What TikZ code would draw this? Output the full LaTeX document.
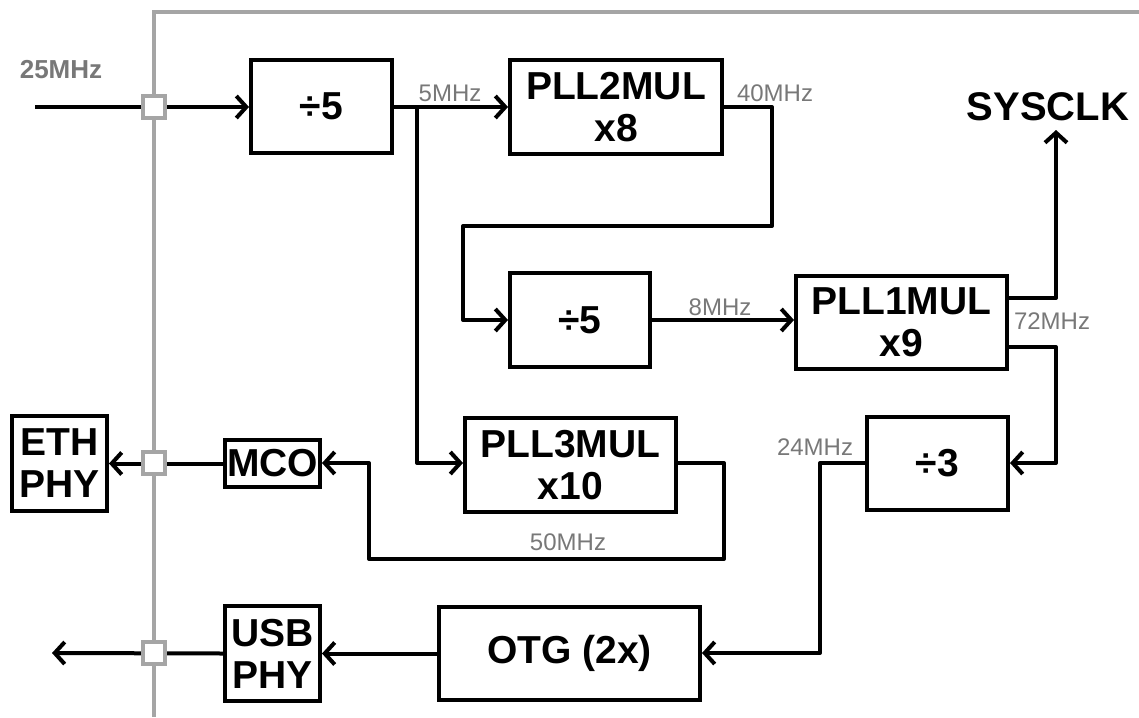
\documentclass[tikz,border=0pt]{standalone}
\usepackage{fontspec}
\setmainfont{Liberation Sans}
\usetikzlibrary{arrows.meta}
\definecolor{frame}{RGB}{165,165,165}
\definecolor{lbl}{RGB}{120,120,120}
\tikzset{
  blk/.style={draw=black, line width=4pt, fill=white, inner sep=0pt, align=center,
    font=\fontsize{39}{42}\selectfont\bfseries},
  wire/.style={draw=black, line width=4pt, line join=round},
  arr/.style={wire, -{Straight Barb[length=10pt,width=22pt,line width=4pt]}},
  pin/.style={draw=frame, line width=3.5pt, fill=white, minimum size=22pt, inner sep=0pt},
  freq/.style={text=lbl, font=\fontsize{24}{25}\selectfont, inner sep=0pt},
  bigl/.style={font=\fontsize{40}{42}\selectfont\bfseries, inner sep=0pt}
}
\begin{document}
\begin{tikzpicture}[x=1pt,y=-1pt]
\useasboundingbox (0,0) rectangle (1139,717);
% frame
\draw[frame, line width=3.5pt] (154,717) -- (154,12) -- (1139,12);
% blocks
\node[blk, minimum width=141pt, minimum height=93pt] (d5a) at (321.5,106.5) {÷5};
\node[blk, minimum width=212pt, minimum height=94pt] (pll2) at (616,107) {PLL2MUL\\x8};
\node[blk, minimum width=140pt, minimum height=94pt] (d5b) at (580,320) {÷5};
\node[blk, minimum width=211pt, minimum height=93pt] (pll1) at (901.5,322.5) {PLL1MUL\\x9};
\node[blk, minimum width=141pt, minimum height=93pt] (d3) at (937.5,463.5) {÷3};
\node[blk, minimum width=211pt, minimum height=94pt] (pll3) at (570.5,465) {PLL3MUL\\x10};
\node[blk, minimum width=95pt, minimum height=47pt] (mco) at (272.5,463.5) {MCO};
\node[blk, minimum width=95pt, minimum height=95pt] (eth) at (59.5,463.5) {ETH\\PHY};
\node[blk, minimum width=95pt, minimum height=95pt] (usb) at (272.5,653.5) {USB\\PHY};
\node[blk, minimum width=261pt, minimum height=93pt] (otg) at (569.5,653.5) {OTG (2x)};
\node[bigl] (sys) at (1048,107) {SYSCLK};
% coordinates
\coordinate (in) at (35,107);
\coordinate (out) at (52,653);
\coordinate (br) at (417,107);
% connectors
\draw[arr] (in) -- (d5a.west |- in);
\draw[arr] (d5a.east |- br) -- (pll2.west |- br);
\draw[arr] (br) -- (417,463) -- (pll3.west |- 0,463);
\draw[arr] (pll2.east |- 0,107) -- (772,107) -- (772,226) -- (463,226) -- (463,320) -- (d5b.west);
\draw[arr] (d5b.east) -- (pll1.west |- d5b.east);
\draw[arr] (pll1.east |- 0,298) -- (1056,298) -- (1056,130);
\draw[arr] (pll1.east |- 0,347) -- (1056,347) -- (1056,463) -- (d3.east |- 0,463);
\draw[arr] (d3.west |- 0,463) -- (820,463) -- (820,653) -- (otg.east |- 0,653);
\draw[arr] (otg.west) -- (usb.east);
\draw[arr] (usb.west) -- (out);
\draw[arr] (pll3.east |- 0,463) -- (724,463) -- (724,559) -- (369,559) -- (369,463) -- (mco.east |- 0,463);
\draw[arr] (mco.west) -- (eth.east |- mco.west);
% pins
\node[pin] (p1) at (154,107) {};
\node[pin] (p2) at (154,463) {};
\node[pin] (p3) at (154,653) {};
% labels
\node[text=lbl, font=\fontsize{26}{27}\selectfont\bfseries, inner sep=0pt] (f25) at (61,70) {25MHz};
\node[freq] (f5) at (450,93) {5MHz};
\node[freq] (f40) at (775,93) {40MHz};
\node[freq] (f8) at (720,307) {8MHz};
\node[freq] (f72) at (1052,321) {72MHz};
\node[freq] (f24) at (815,447) {24MHz};
\node[freq] (f50) at (568,542) {50MHz};
\end{tikzpicture}
\end{document}
